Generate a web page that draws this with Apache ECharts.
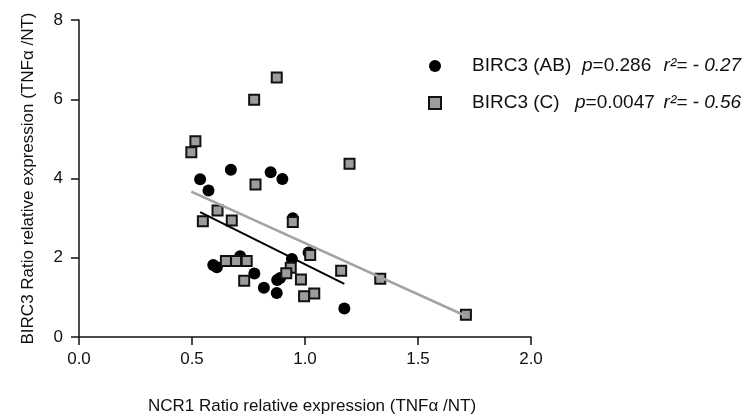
<!DOCTYPE html>
<html>
<head>
<meta charset="utf-8">
<script src="https://cdn.jsdelivr.net/npm/echarts@6/dist/echarts.min.js"></script>
<style>
  html, body { margin: 0; padding: 0; background: #fff; }
  #chart { width: 744px; height: 420px; }
</style>
</head>
<body>
<div id="chart"></div>
<script>
// NCR1 ratio (x) vs BIRC3 ratio (y)
let pointsAB = [
  [0.536, 3.98], [0.573, 3.70], [0.672, 4.22], [0.848, 4.16], [0.900, 3.99],
  [0.594, 1.82], [0.610, 1.76], [0.713, 2.04], [0.776, 1.60], [0.818, 1.24],
  [0.877, 1.44], [0.890, 1.49], [0.875, 1.11], [0.942, 1.97], [1.016, 2.13],
  [1.174, 0.72], [0.946, 3.00]
];
let pointsC = [
  [0.875, 6.55], [0.775, 5.99], [0.515, 4.94], [0.497, 4.66], [0.781, 3.85],
  [1.197, 4.37], [0.613, 3.19], [0.548, 2.92], [0.676, 2.94], [0.946, 2.90],
  [0.650, 1.92], [0.695, 1.92], [0.742, 1.92], [0.731, 1.42], [1.023, 2.07],
  [0.937, 1.75], [0.917, 1.61], [0.982, 1.45], [1.160, 1.67], [0.996, 1.03],
  [1.041, 1.10], [1.333, 1.47], [1.712, 0.56]
];
// regression line end points
let fitAB = [[0.536, 3.15], [1.174, 1.34]];
let fitC = [[0.497, 3.67], [1.712, 0.53]];

let seriesNames = ['BIRC3 (AB)', 'BIRC3 (C)'];
let pValues = ['0.286', '0.0047'];
let r2Values = ['- 0.27', '- 0.56'];

let font = 'Liberation Sans, Arial, sans-serif';
let ink = '#111';

let chart = echarts.init(document.getElementById('chart'), null, {renderer: 'canvas'});

let option = {
  backgroundColor: '#fff',
  animation: false,
  textStyle: {fontFamily: font, color: ink},
  grid: {left: 79, right: 213, top: 20, bottom: 78.5, containLabel: false},
  legend: {
    orient: 'vertical',
    left: 428,
    top: 55,
    padding: 0,
    itemGap: 15,
    itemWidth: 12,
    itemHeight: 12,
    data: [
      {name: seriesNames[0], icon: 'circle'},
      {name: seriesNames[1], icon: 'rect'}
    ],
    formatter: function (name) {
      let i = seriesNames.indexOf(name);
      let k = i + 1;
      return '{n' + k + '|' + name + '}{pi|p}{p' + k + '|=' + pValues[i] + '}{r|r²= ' + r2Values[i] + '}';
    },
    textStyle: {
      fontFamily: font,
      fontSize: 19,
      color: ink,
      lineHeight: 22,
      rich: {
        n1: {fontSize: 19, height: 22, lineHeight: 22, width: 110, padding: [0, 0, 0, 26], fontFamily: font, color: ink},
        n2: {fontSize: 19, height: 22, lineHeight: 22, width: 103, padding: [0, 0, 0, 26], fontFamily: font, color: ink},
        pi: {fontSize: 19, height: 22, lineHeight: 22, fontStyle: 'italic', fontFamily: font, color: ink},
        p1: {fontSize: 19, height: 22, lineHeight: 22, width: 71, fontFamily: font, color: ink},
        p2: {fontSize: 19, height: 22, lineHeight: 22, width: 78, fontFamily: font, color: ink},
        r: {fontSize: 19, height: 22, lineHeight: 22, fontStyle: 'italic', fontFamily: font, color: ink}
      }
    }
  },
  xAxis: {
    type: 'value',
    min: 0,
    max: 2,
    interval: 0.5,
    name: 'NCR1 Ratio relative expression (TNFα /NT)',
    nameLocation: 'middle',
    nameGap: 61,
    nameTextStyle: {fontSize: 17, color: ink, fontFamily: font, padding: [0, 0, 0, 14]},
    axisLine: {show: true, onZero: false, lineStyle: {color: ink, width: 1.5}},
    axisTick: {show: true, length: 8, lineStyle: {color: ink, width: 1.5}},
    axisLabel: {
      fontSize: 17, color: ink, margin: 14, fontFamily: font,
      formatter: function (v) { return v.toFixed(1); }
    },
    splitLine: {show: false}
  },
  yAxis: {
    type: 'value',
    min: 0,
    max: 8,
    interval: 2,
    name: 'BIRC3 Ratio relative expression (TNFα /NT)',
    nameLocation: 'middle',
    nameGap: 42,
    nameTextStyle: {fontSize: 17, color: ink, fontFamily: font},
    axisLine: {show: true, onZero: false, lineStyle: {color: ink, width: 1.5}},
    axisTick: {show: true, length: 8, lineStyle: {color: ink, width: 1.5}},
    axisLabel: {fontSize: 17, color: ink, margin: 16, fontFamily: font},
    splitLine: {show: false}
  },
  series: [
    {
      name: 'fit C',
      type: 'line',
      data: fitC,
      symbol: 'none',
      lineStyle: {color: '#a3a3a3', width: 2.5},
      silent: true
    },
    {
      name: 'fit AB',
      type: 'line',
      data: fitAB,
      symbol: 'none',
      lineStyle: {color: '#000', width: 2},
      silent: true
    },
    {
      name: seriesNames[0],
      type: 'scatter',
      data: pointsAB,
      symbol: 'circle',
      symbolSize: 12,
      itemStyle: {color: '#000', opacity: 1}
    },
    {
      name: seriesNames[1],
      type: 'scatter',
      data: pointsC,
      symbol: 'rect',
      symbolSize: 10,
      itemStyle: {color: '#9c9c9c', borderColor: '#111', borderWidth: 2, opacity: 1}
    }
  ]
};

chart.setOption(option);
</script>
</body>
</html>
